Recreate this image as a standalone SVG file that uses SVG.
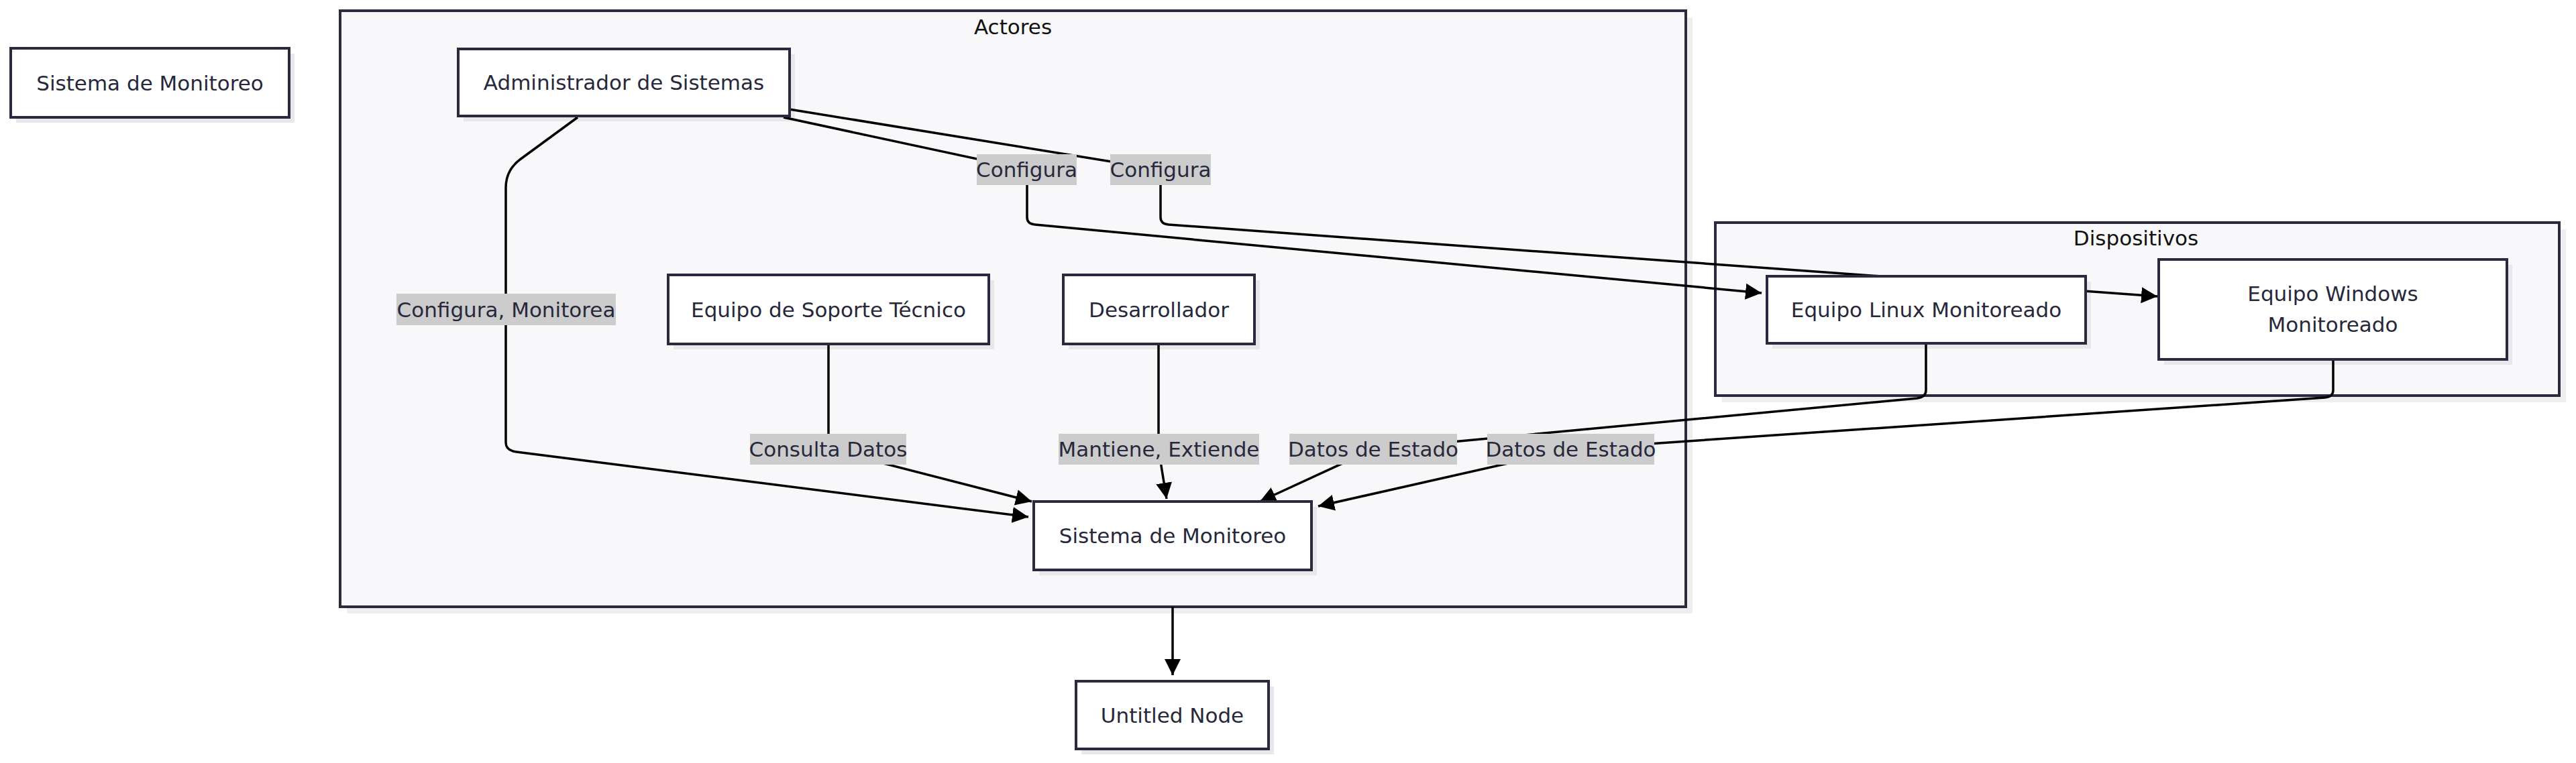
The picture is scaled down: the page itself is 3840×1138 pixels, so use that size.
<svg xmlns="http://www.w3.org/2000/svg" width="3840" height="1138" viewBox="0 0 3840 1138">
<style>
  .bg { fill: #ffffff; }
  .cluster { fill: #f8f8fa; stroke: #2a2a3e; stroke-width: 4; }
  .cshadow { fill: #eeeef0; }
  .node { fill: #ffffff; stroke: #2a2a3e; stroke-width: 4; }
  .nshadow { fill: #e8e8eb; }
  .t { font-family: "DejaVu Sans", "Liberation Sans", sans-serif; font-size: 31px; fill: #28283c; text-anchor: middle; dominant-baseline: central; }
  .ct { font-family: "DejaVu Sans", "Liberation Sans", sans-serif; font-size: 31px; fill: #111111; text-anchor: middle; dominant-baseline: central; }
  .edge { fill: none; stroke: #000000; stroke-width: 3.5; stroke-linejoin: round; }
  .lbl { fill: #cccccc; }
</style>
<defs>
  <marker id="arrow" viewBox="0 0 10 10" refX="10" refY="5" markerUnits="userSpaceOnUse" markerWidth="24" markerHeight="27" orient="auto">
    <path d="M0,0 L10,5 L0,10 z" fill="#000000"/>
  </marker>
</defs>
<rect class="bg" x="0" y="0" width="3840" height="1138"/>

<g id="cluster-actores">
  <rect class="cshadow" x="517" y="26" width="2006" height="889"/>
  <rect class="cluster" x="507" y="16" width="2006" height="889"/>
  <text class="ct" x="1510" y="40">Actores</text>
</g>
<g id="cluster-dispositivos">
  <rect class="cshadow" x="2567" y="342" width="1258" height="258"/>
  <rect class="cluster" x="2557" y="332" width="1258" height="258"/>
  <text class="ct" x="3184" y="355">Dispositivos</text>
</g>

<g id="node-shadows">
  <rect class="nshadow" x="24" y="80" width="415" height="103"/>
  <rect class="nshadow" x="691" y="81" width="494" height="100"/>
  <rect class="nshadow" x="1004" y="418" width="478" height="103"/>
  <rect class="nshadow" x="1593" y="418" width="285" height="103"/>
  <rect class="nshadow" x="1549" y="756" width="414" height="102"/>
  <rect class="nshadow" x="2642" y="420" width="475" height="100"/>
  <rect class="nshadow" x="3226" y="395" width="519" height="149"/>
  <rect class="nshadow" x="1612" y="1024" width="287" height="101"/>
</g>

<g id="edges">
  <path class="edge" d="M861,175 L775,238 Q754,254 754,280 L754,660 Q754,672 770,674 L1533,771" marker-end="url(#arrow)"/>
  <path class="edge" d="M1168,175 L1531,253 L1531,324 Q1531,334 1543,335 L2626,437" marker-end="url(#arrow)"/>
  <path class="edge" d="M1177,163 L1730,253 L1730,324 Q1730,334 1742,335 L3216,442" marker-end="url(#arrow)"/>
  <path class="edge" d="M1235,513 L1235,670 L1538,748" marker-end="url(#arrow)"/>
  <path class="edge" d="M1727,513 L1727,670 L1739,744" marker-end="url(#arrow)"/>
  <path class="edge" d="M2871,512 L2871,582 Q2871,592 2858,594 L2047,670 L1878,748" marker-end="url(#arrow)"/>
  <path class="edge" d="M3478,536 L3478,582 Q3478,592 3465,593 L2341,670 L1965,755" marker-end="url(#arrow)"/>
  <path class="edge" d="M1748,905 L1748,1007" marker-end="url(#arrow)"/>
</g>

<g id="edge-labels">
  <g id="label-configura-monitorea">
    <rect class="lbl" x="591" y="438" width="327" height="47"/>
    <text class="t" x="754.5" y="461.5">Configura, Monitorea</text>
  </g>
  <g id="label-configura-1">
    <rect class="lbl" x="1456" y="230" width="149" height="46"/>
    <text class="t" x="1530.5" y="253">Configura</text>
  </g>
  <g id="label-configura-2">
    <rect class="lbl" x="1655" y="230" width="150" height="46"/>
    <text class="t" x="1730" y="253">Configura</text>
  </g>
  <g id="label-consulta">
    <rect class="lbl" x="1118" y="647" width="233" height="46"/>
    <text class="t" x="1234.5" y="670">Consulta Datos</text>
  </g>
  <g id="label-mantiene">
    <rect class="lbl" x="1578" y="647" width="299" height="46"/>
    <text class="t" x="1727.5" y="670">Mantiene, Extiende</text>
  </g>
  <g id="label-datos-1">
    <rect class="lbl" x="1922" y="647" width="250" height="46"/>
    <text class="t" x="2047" y="670">Datos de Estado</text>
  </g>
  <g id="label-datos-2">
    <rect class="lbl" x="2217" y="647" width="249" height="46"/>
    <text class="t" x="2341.5" y="670">Datos de Estado</text>
  </g>
</g>

<g id="node-sistema-standalone">
  <rect class="node" x="16" y="72" width="415" height="103"/>
  <text class="t" x="223.5" y="124">Sistema de Monitoreo</text>
</g>
<g id="node-admin">
  <rect class="node" x="683" y="73" width="494" height="100"/>
  <text class="t" x="930" y="123">Administrador de Sistemas</text>
</g>
<g id="node-soporte">
  <rect class="node" x="996" y="410" width="478" height="103"/>
  <text class="t" x="1235" y="461.5">Equipo de Soporte Técnico</text>
</g>
<g id="node-desarrollador">
  <rect class="node" x="1585" y="410" width="285" height="103"/>
  <text class="t" x="1727.5" y="461.5">Desarrollador</text>
</g>
<g id="node-sistema">
  <rect class="node" x="1541" y="748" width="414" height="102"/>
  <text class="t" x="1748" y="799">Sistema de Monitoreo</text>
</g>
<g id="node-linux">
  <rect class="node" x="2634" y="412" width="475" height="100"/>
  <text class="t" x="2871.5" y="462">Equipo Linux Monitoreado</text>
</g>
<g id="node-windows">
  <rect class="node" x="3218" y="387" width="519" height="149"/>
  <text class="t" x="3477.5" y="438">Equipo Windows</text>
  <text class="t" x="3477.5" y="484">Monitoreado</text>
</g>
<g id="node-untitled">
  <rect class="node" x="1604" y="1016" width="287" height="101"/>
  <text class="t" x="1747.5" y="1066.5">Untitled Node</text>
</g>
</svg>
